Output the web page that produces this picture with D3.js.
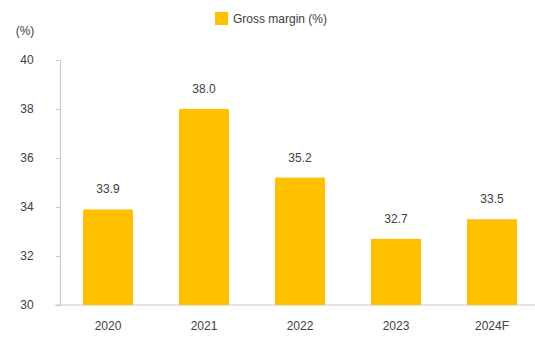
<!DOCTYPE html>
<html>
<head>
<meta charset="utf-8">
<script src="https://cdn.jsdelivr.net/npm/d3@7"></script>
<style>
  html, body { margin: 0; padding: 0; background: #fff; }
  svg { display: block; font-family: "Liberation Sans", Arial, sans-serif; }
</style>
</head>
<body>
<svg id="chart" width="535" height="343"></svg>
<script>
// Gross margin by year (%)
const years = ["2020", "2021", "2022", "2023", "2024F"];
const grossMargin = [33.9, 38.0, 35.2, 32.7, 33.5];
const yTicks = [30, 32, 34, 36, 38, 40];
const seriesName = "Gross margin (%)";
const unitLabel = "(%)";

const barColor = "#FFC000";
const textColor = "#404040";
const axisColor = "#c8c8c8";

const svg = d3.select("#chart");
const margin = { top: 60, right: 0, bottom: 38, left: 60 };
const width = 535, height = 343;

const x = d3.scaleBand()
  .domain(years)
  .range([margin.left, 540])
  .paddingInner(0.48)
  .paddingOuter(0.24);

const y = d3.scaleLinear()
  .domain([30, 40])
  .range([height - margin.bottom, margin.top]);

// y axis
const yAxis = svg.append("g")
  .attr("transform", `translate(${margin.left},0)`)
  .call(d3.axisLeft(y).tickValues(yTicks).tickFormat(d3.format("d")).tickSize(4));
yAxis.select(".domain").attr("stroke", axisColor);
yAxis.selectAll(".tick line").attr("stroke", axisColor);
yAxis.selectAll(".tick text")
  .attr("fill", textColor)
  .attr("font-size", 12)
  .attr("text-anchor", "middle")
  .attr("x", -33);

// x axis
const xAxis = svg.append("g")
  .attr("transform", `translate(0,${y(30)})`)
  .call(d3.axisBottom(x).tickSize(0).tickPadding(16));
xAxis.select(".domain").attr("stroke", axisColor).attr("d", `M${margin.left - 5},0H535`);
xAxis.selectAll(".tick text").attr("fill", textColor).attr("font-size", 12);

// bars
const rows = years.map((yr, i) => ({ yr, v: grossMargin[i] }));
svg.append("g")
  .selectAll("rect")
  .data(rows)
  .join("rect")
  .attr("x", d => x(d.yr))
  .attr("width", x.bandwidth())
  .attr("y", d => y(d.v))
  .attr("height", d => y(30) - y(d.v))
  .attr("fill", barColor);

// value labels
svg.append("g")
  .selectAll("text")
  .data(rows)
  .join("text")
  .attr("x", d => x(d.yr) + x.bandwidth() / 2)
  .attr("y", d => y(d.v) - 16)
  .attr("text-anchor", "middle")
  .attr("fill", textColor)
  .attr("font-size", 12)
  .text(d => d.v.toFixed(1));

// unit label
svg.append("text")
  .attr("x", 25).attr("y", 35)
  .attr("text-anchor", "middle")
  .attr("fill", textColor)
  .attr("font-size", 12)
  .text(unitLabel);

// legend
const legend = svg.append("g").attr("transform", "translate(215,12)");
legend.append("rect").attr("width", 13).attr("height", 13).attr("fill", barColor);
legend.append("text")
  .attr("x", 18).attr("y", 11)
  .attr("fill", textColor)
  .attr("font-size", 12)
  .text(seriesName);
</script>
</body>
</html>
